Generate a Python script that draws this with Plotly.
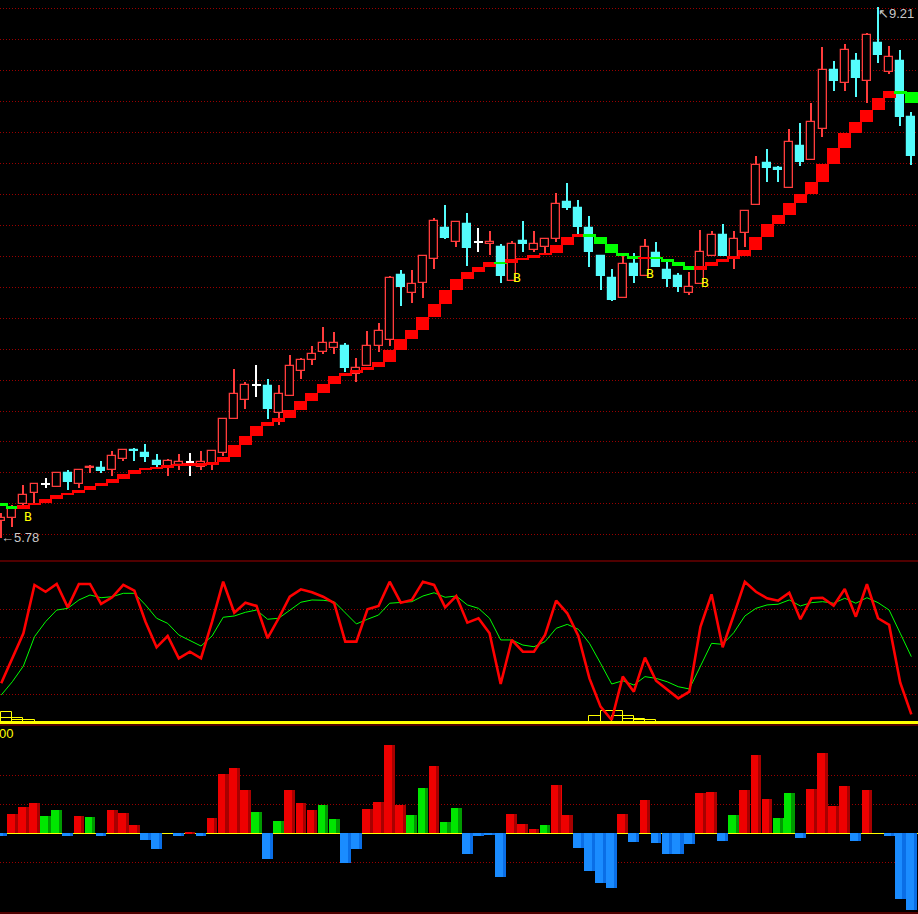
import plotly.graph_objects as go

# ---------------- data ----------------
idx = list(range(83))

opens = [5.89, 5.91, 6.00, 6.07, 6.13, 6.11, 6.20, 6.13, 6.23, 6.23,
         6.22, 6.29, 6.35, 6.33, 6.28, 6.24, 6.25, 6.27, 6.24, 6.26,
         6.33, 6.55, 6.67, 6.77, 6.76, 6.59, 6.70, 6.86, 6.93, 6.98,
         7.01, 7.02, 6.84, 6.89, 7.02, 7.06, 7.48, 7.36, 7.43, 7.58,
         7.78, 7.69, 7.81, 7.69, 7.68, 7.66, 7.44, 7.70, 7.64, 7.66,
         7.71, 7.95, 7.91, 7.78, 7.60, 7.46, 7.33, 7.55, 7.47, 7.62,
         7.51, 7.47, 7.36, 7.42, 7.60, 7.74, 7.58, 7.75, 7.93, 8.20,
         8.17, 8.04, 8.31, 8.22, 8.42, 8.80, 8.72, 8.86, 8.73, 8.98,
         8.79, 8.86, 8.50]
highs = [5.94, 5.99, 6.12, 6.13, 6.17, 6.20, 6.22, 6.22, 6.25, 6.28,
         6.34, 6.35, 6.36, 6.39, 6.32, 6.29, 6.32, 6.33, 6.34, 6.34,
         6.55, 6.87, 6.79, 6.90, 6.81, 6.77, 6.96, 6.94, 7.02, 7.14,
         7.11, 7.04, 6.94, 7.12, 7.17, 7.47, 7.51, 7.51, 7.60, 7.85,
         7.93, 7.82, 7.88, 7.78, 7.76, 7.68, 7.70, 7.83, 7.76, 7.72,
         8.01, 8.07, 7.96, 7.86, 7.61, 7.52, 7.61, 7.62, 7.71, 7.69,
         7.57, 7.49, 7.50, 7.77, 7.76, 7.81, 7.76, 7.89, 8.25, 8.29,
         8.18, 8.42, 8.46, 8.59, 8.95, 8.86, 8.97, 8.91, 9.04, 9.21,
         8.96, 8.93, 8.53]
lows = [5.78, 5.85, 5.98, 5.99, 6.10, 6.11, 6.09, 6.10, 6.20, 6.20,
        6.18, 6.28, 6.28, 6.27, 6.24, 6.18, 6.22, 6.18, 6.22, 6.22,
        6.31, 6.55, 6.61, 6.69, 6.55, 6.51, 6.70, 6.81, 6.90, 6.97,
        6.97, 6.85, 6.79, 6.89, 6.98, 7.02, 7.28, 7.30, 7.33, 7.52,
        7.71, 7.66, 7.54, 7.63, 7.61, 7.43, 7.44, 7.63, 7.63, 7.61,
        7.69, 7.90, 7.74, 7.53, 7.38, 7.31, 7.33, 7.43, 7.47, 7.53,
        7.40, 7.37, 7.35, 7.42, 7.60, 7.60, 7.52, 7.66, 7.93, 8.08,
        8.08, 8.04, 8.18, 8.22, 8.37, 8.67, 8.67, 8.63, 8.59, 8.85,
        8.78, 8.44, 8.19]
closes = [5.91, 5.97, 6.06, 6.13, 6.13, 6.20, 6.14, 6.22, 6.24, 6.21,
          6.31, 6.35, 6.34, 6.30, 6.25, 6.28, 6.27, 6.27, 6.27, 6.34,
          6.55, 6.71, 6.77, 6.77, 6.61, 6.71, 6.89, 6.93, 6.97, 7.04,
          7.04, 6.88, 6.88, 7.02, 7.12, 7.46, 7.40, 7.42, 7.60, 7.83,
          7.72, 7.82, 7.65, 7.69, 7.69, 7.47, 7.68, 7.68, 7.68, 7.71,
          7.94, 7.91, 7.79, 7.63, 7.47, 7.32, 7.55, 7.47, 7.66, 7.53,
          7.45, 7.40, 7.40, 7.63, 7.74, 7.60, 7.71, 7.89, 8.19, 8.17,
          8.16, 8.34, 8.21, 8.47, 8.80, 8.73, 8.93, 8.75, 9.03, 8.90,
          8.89, 8.50, 8.25]

# stepped support line
sup_start = 6.006
sup = [5.985, 5.969, 5.993, 6.008, 6.032, 6.058, 6.072, 6.090, 6.118, 6.137,
       6.161, 6.195, 6.219, 6.234, 6.240, 6.251, 6.258, 6.262, 6.264, 6.269,
       6.303, 6.381, 6.439, 6.503, 6.529, 6.555, 6.607, 6.665, 6.717, 6.775,
       6.826, 6.846, 6.865, 6.884, 6.917, 6.994, 7.065, 7.123, 7.207, 7.291,
       7.382, 7.453, 7.498, 7.530, 7.563, 7.556, 7.582, 7.589, 7.608, 7.621,
       7.672, 7.724, 7.744, 7.724, 7.679, 7.621, 7.601, 7.582, 7.595, 7.582,
       7.563, 7.537, 7.511, 7.537, 7.563, 7.582, 7.601, 7.640, 7.724, 7.808,
       7.866, 7.944, 8.002, 8.080, 8.196, 8.299, 8.396, 8.467, 8.545, 8.622,
       8.667, 8.661, 8.592]

b_idx = [2, 46, 58, 63]
b_price = [5.92, 7.465, 7.487, 7.43]
price_grid = [5.8, 6.0, 6.2, 6.4, 6.6, 6.8, 7.0, 7.2, 7.4, 7.6, 7.8, 8.0,
              8.2, 8.4, 8.6, 8.8, 9.0, 9.2]

# oscillator panel
k_line = [27.8, 45.4, 63.1, 97.2, 92.4, 97.9, 81.4, 97.9, 97.9, 83.8,
          88.5, 97.2, 93.2, 71.3, 53.2, 61.2, 45.4, 50.1, 45.4, 71.3,
          99.5, 77.6, 84.7, 82.4, 59.6, 73.7, 88.9, 94.1, 92.0, 88.9,
          84.3, 57.2, 57.2, 80.0, 82.4, 99.5, 84.7, 86.6, 99.5, 97.2,
          81.4, 89.4, 70.6, 73.7, 63.1, 27.3, 58.4, 50.1, 50.1, 61.9,
          86.1, 77.2, 61.2, 31.3, 11.3, 1.9, 32.5, 21.9, 45.9, 29.6,
          23.1, 17.2, 21.9, 67.7, 90.6, 53.2, 76.0, 99.5, 92.4, 87.8,
          86.1, 91.7, 73.0, 87.8, 88.2, 82.6, 94.4, 74.8, 97.7, 73.7,
          69.0, 28.2, 5.9]
d_line = [19.5, 28.9, 40.0, 60.7, 71.3, 79.5, 80.7, 86.6, 90.1, 88.2,
          88.9, 91.3, 91.3, 83.1, 73.7, 70.1, 61.9, 57.9, 54.1, 61.2,
          74.4, 75.3, 77.9, 79.5, 73.0, 73.7, 79.5, 85.0, 86.6, 86.4,
          85.4, 77.2, 69.7, 73.0, 76.0, 84.3, 84.7, 85.4, 89.4, 91.7,
          88.5, 89.4, 83.1, 80.7, 73.7, 58.4, 58.4, 54.8, 53.6, 57.2,
          66.6, 69.4, 65.9, 56.0, 41.9, 27.3, 29.6, 26.6, 32.5, 31.3,
          28.9, 25.4, 23.8, 39.5, 56.0, 55.3, 63.5, 75.3, 80.7, 83.1,
          83.6, 86.6, 82.4, 84.7, 85.4, 84.3, 87.8, 84.3, 88.2, 84.7,
          79.5, 63.1, 46.6]
osc_grid = [20, 40, 60, 80]
# small hollow yellow boxes at the bottom of the oscillator panel
yb_left = [0, 0, 1, 53, 54, 55, 56, 57]
yb_right = [1, 2, 3, 54, 56, 57, 58, 59]
yb_height = [7.8, 3.5, 1.7, 4.4, 8.0, 4.4, 2.3, 1.6]

# histogram panel
macd = [-0.008, 0.067, 0.091, 0.104, 0.060, 0.080, -0.011, 0.060, 0.056, -0.008,
        0.080, 0.070, 0.029, -0.023, -0.053, 0.0, -0.011, 0.004, -0.008, 0.053,
        0.204, 0.225, 0.149, 0.073, -0.087, 0.042, 0.149, 0.104, 0.080, 0.098,
        0.049, -0.101, -0.053, 0.084, 0.108, 0.304, 0.098, 0.063, 0.156, 0.232,
        0.039, 0.087, -0.071, -0.011, -0.006, -0.149, 0.067, 0.032, 0.015, 0.029,
        0.167, 0.063, -0.049, -0.129, -0.170, -0.187, 0.067, -0.029, 0.115, -0.032,
        -0.070, -0.070, -0.036, 0.139, 0.142, -0.025, 0.063, 0.149, 0.270, 0.118,
        0.053, 0.139, -0.015, 0.153, 0.277, 0.094, 0.163, -0.025, 0.149, 0.0,
        -0.008, -0.225, -0.263]
macd_green_idx = [4, 5, 8, 23, 25, 29, 30, 37, 38, 40, 41, 49, 66, 70, 71]
macd_grid = [-0.1, 0.1, 0.2]

# ---------------- styling ----------------
UP = '#ff3c3c'
DOWN = '#54fcfc'
GRID = '#990000'
DASH = '1px,2px'
SEP = '#a00000'
W, H = 918, 914
XR = [-0.108, 82.6]

fig = go.Figure()

up = [i for i in idx if closes[i] > opens[i]]
dn = [i for i in idx if closes[i] < opens[i]]
dj = [i for i in idx if closes[i] == opens[i]]

def wick(sel, color):
    fig.add_trace(go.Bar(x=sel, base=[lows[i] for i in sel],
                         y=[highs[i] - lows[i] for i in sel], width=0.1,
                         marker=dict(color=color, line=dict(width=0)),
                         xaxis='x', yaxis='y', hoverinfo='skip'))

wick(up, UP)
wick(dn, DOWN)
wick(dj, '#ffffff')

fig.add_trace(go.Bar(x=up, base=[opens[i] for i in up],
                     y=[closes[i] - opens[i] for i in up], width=0.72,
                     marker=dict(color='#000000', line=dict(color=UP, width=1.3)),
                     xaxis='x', yaxis='y'))
fig.add_trace(go.Bar(x=dn, base=[closes[i] for i in dn],
                     y=[opens[i] - closes[i] for i in dn], width=0.72,
                     marker=dict(color=DOWN, line=dict(color=DOWN, width=1.2)),
                     xaxis='x', yaxis='y'))
fig.add_trace(go.Bar(x=dj, base=[closes[i] - 0.0035 for i in dj],
                     y=[0.007] * len(dj), width=0.78,
                     marker=dict(color='#ffffff', line=dict(width=0)),
                     xaxis='x', yaxis='y'))

# support blocks
SUP_MIN = 0.016
prev = [sup_start] + sup[:-1]
blk_lo, blk_h, blk_c = [], [], []
for p, c in zip(prev, sup):
    hi, lo = max(p, c), min(p, c)
    if hi - lo < SUP_MIN:
        lo = hi - SUP_MIN
    blk_lo.append(lo)
    blk_h.append(hi - lo)
    blk_c.append('#ff0000' if c >= p else '#00ff00')
fig.add_trace(go.Bar(x=idx, base=blk_lo, y=blk_h, width=1.17,
                     marker=dict(color=blk_c, line=dict(width=0)),
                     xaxis='x', yaxis='y'))

# oscillator panel
fig.add_trace(go.Bar(x=[(l + r) / 2 for l, r in zip(yb_left, yb_right)],
                     y=yb_height, base=0,
                     width=[r - l for l, r in zip(yb_left, yb_right)],
                     marker=dict(color='rgba(0,0,0,0)', line=dict(color='#ffff00', width=1)),
                     xaxis='x2', yaxis='y2'))
fig.add_trace(go.Scatter(x=idx, y=d_line, mode='lines',
                         line=dict(color='#00ff00', width=1),
                         xaxis='x2', yaxis='y2'))
fig.add_trace(go.Scatter(x=idx, y=k_line, mode='lines',
                         line=dict(color='#ff0000', width=2.6),
                         xaxis='x2', yaxis='y2'))

# histogram panel
mcol, mdark = [], []
for i, v in enumerate(macd):
    if v < 0:
        mcol.append('#1a8cff'); mdark.append('#0a6ee6')
    elif i in macd_green_idx:
        mcol.append('#00e600'); mdark.append('#009900')
    else:
        mcol.append('#ee0000'); mdark.append('#a80000')
fig.add_trace(go.Bar(x=idx, y=macd, width=0.97,
                     marker=dict(color=mcol, line=dict(width=0)),
                     xaxis='x3', yaxis='y3'))
fig.add_trace(go.Bar(x=idx, y=macd, width=0.28, offset=0.2,
                     marker=dict(color=mdark, line=dict(width=0)),
                     xaxis='x3', yaxis='y3'))

# annotations
ann = []
for i, p in zip(b_idx, b_price):
    ann.append(dict(x=i, y=p, xref='x', yref='y', text='B', showarrow=False,
                    xanchor='left', yanchor='middle', xshift=-1,
                    font=dict(family='DejaVu Sans Mono', size=13, color='#ffff00')))
lo_i = lows.index(min(lows))
hi_i = highs.index(max(highs))
ann.append(dict(x=lo_i, y=lows[lo_i], xref='x', yref='y',
                text='\u2190' + f'{lows[lo_i]:.2f}', showarrow=False,
                xanchor='left', yanchor='middle', xshift=-2,
                font=dict(family='Liberation Sans', size=13, color='#c8c8c8')))
ann.append(dict(x=hi_i, y=highs[hi_i], xref='x', yref='y',
                text='\u2196' + f'{highs[hi_i]:.2f}', showarrow=False,
                xanchor='left', yanchor='top', xshift=-2, yshift=3,
                font=dict(family='Liberation Sans', size=13, color='#c8c8c8')))
ann.append(dict(x=0, y=1 - 733 / H, xref='paper', yref='paper', text='00',
                showarrow=False, xanchor='left', yanchor='middle', xshift=-3,
                font=dict(family='Liberation Sans', size=13, color='#ffff00')))

shapes = []
for py in (561, 725, 913):
    shapes.append(dict(type='line', xref='paper', yref='paper', x0=0, x1=1,
                       y0=1 - py / H, y1=1 - py / H,
                       line=dict(color=SEP, width=1.2)))

ax_common = dict(showticklabels=False, ticks='', showline=False, zeroline=False)
fig.update_layout(
    width=W, height=H, margin=dict(l=0, r=0, t=0, b=0),
    paper_bgcolor='#000000', plot_bgcolor='#000000',
    showlegend=False, barmode='overlay', bargap=0,
    xaxis=dict(domain=[0, 1], range=XR, anchor='y', showgrid=False, **ax_common),
    xaxis2=dict(domain=[0, 1], range=XR, anchor='y2', matches='x', showgrid=False, **ax_common),
    xaxis3=dict(domain=[0, 1], range=XR, anchor='y3', matches='x', showgrid=False, **ax_common),
    yaxis=dict(domain=[1 - 561 / H, 1], range=[5.6311, 9.2552], tickvals=price_grid,
               showgrid=True, gridcolor=GRID, griddash=DASH, gridwidth=1, **ax_common),
    yaxis2=dict(domain=[1 - 725 / H, 1 - 561 / H], range=[-1.62, 114.1], tickvals=osc_grid,
                showgrid=True, gridcolor=GRID, griddash=DASH, gridwidth=1,
                showticklabels=False, ticks='', showline=False,
                zeroline=True, zerolinecolor='#ffff00', zerolinewidth=2.6),
    yaxis3=dict(domain=[1 - 913 / H, 1 - 725 / H], range=[-0.2748, 0.3734], tickvals=macd_grid,
                showgrid=True, gridcolor=GRID, griddash=DASH, gridwidth=1,
                showticklabels=False, ticks='', showline=False,
                zeroline=True, zerolinecolor='#ffff00', zerolinewidth=1),
    annotations=ann, shapes=shapes,
)

fig.write_html('out.html', config={'displayModeBar': False},
               post_script="document.body.style.margin='0';"
                           "document.body.style.padding='0';"
                           "document.body.style.overflow='hidden';"
                           "document.body.style.background='#000';")
